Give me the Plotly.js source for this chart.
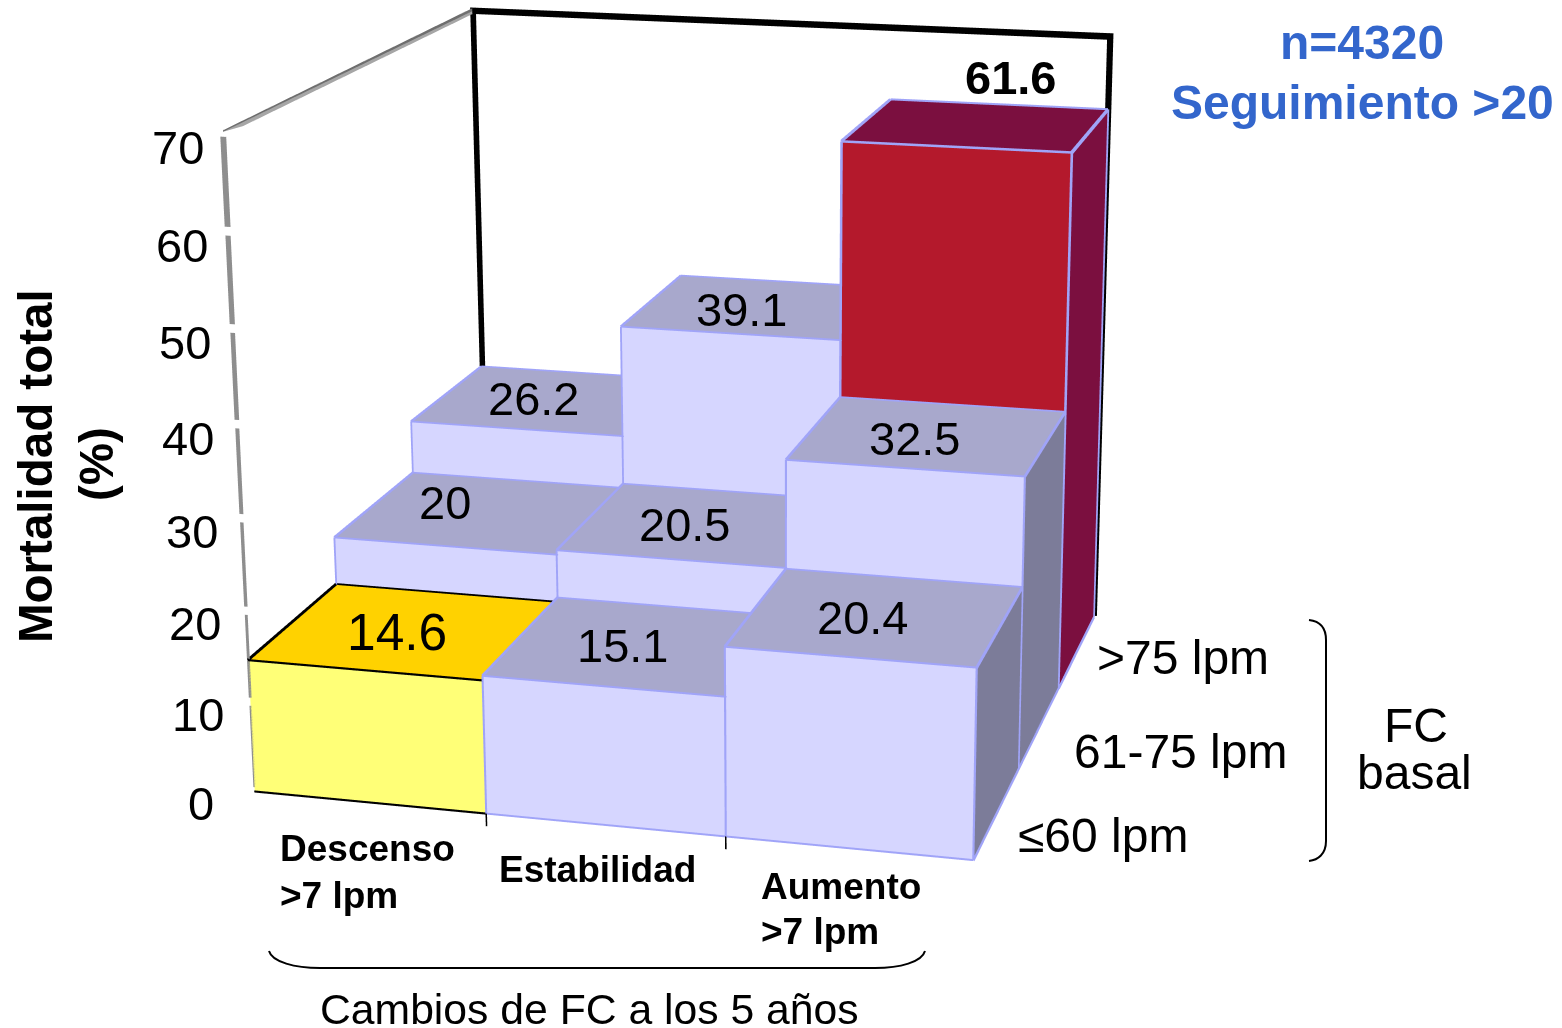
<!DOCTYPE html>
<html>
<head>
<meta charset="utf-8">
<script src="https://cdn.plot.ly/plotly-3.0.1.min.js"></script>
<style>
  html, body { margin: 0; padding: 0; background: #fff; overflow: hidden; width: 1562px; height: 1028px; }
  #frame { position: fixed; left: 0; top: 0; width: 1562px; height: 1028px; overflow: hidden; }
  #chart { position: absolute; left: 0; top: -936px; width: 1562px; height: 2900px; }
</style>
</head>
<body>
<div id="frame"><div id="chart"></div></div>
<script>
// Total mortality by baseline heart rate and its change over five years
const changeGroups = [['Descenso', '>7 lpm'], ['Estabilidad'], ['Aumento', '>7 lpm']];
const baselineGroups = ['≤60 lpm', '61-75 lpm', '>75 lpm'];
const lowHR = [14.6, 15.1, 20.4];
const midHR = [20, 20.5, 32.5];
const highHR = [26.2, 39.1, 61.6];
const zTicks = [0, 10, 20, 30, 40, 50, 60, 70];

const grid = [lowHR, midHR, highHR];
const ZMAX = 70;

// The canvas is taller than the window so that the fixed 45 degree lens reads as a long one
const W = 1562, H = 2900, TOP = -936;
const px = (x, y) => [x / W, 1 - (y - TOP) / H];

const PALETTE = {
  normal: { front: '#D6D6FF', top: '#A8A8CC', side: '#7C7C99' },
  low: { front: '#FFFF77', top: '#FFD200', side: '#7C7C99' },
  high: { front: '#B4192C', top: '#7B0F3F', side: '#7B0F3F' }
};
const EDGE = '#A0A4F8';
const DARK = '#000000';

const vx = [], vy = [], vz = [], ti = [], tj = [], tk = [], fc = [];
function quad(pts, color) {
  const n = vx.length;
  pts.forEach(p => { vx.push(p[0]); vy.push(p[1]); vz.push(p[2]); });
  ti.push(n, n); tj.push(n + 1, n + 2); tk.push(n + 2, n + 3);
  fc.push(color, color);
}

// Edges are narrow ribbons lifted slightly towards the viewer, widened across their direction
const NUDGE = [0.0027, -0.0111, 0.094];
const PX_X = 0.0043, PX_Z = 0.107;
function seg(pts, color, halfWidth) {
  for (let n = 0; n + 1 < pts.length; n++) {
    const a = pts[n], b = pts[n + 1];
    const alongX = a[0] !== b[0], alongY = a[1] !== b[1];
    const ox = (alongX ? 0 : 1) * halfWidth * PX_X;
    const oz = (alongX ? 1 : alongY ? -1 : 0) * halfWidth * PX_Z;
    const shift = (p, s) => [p[0] + NUDGE[0] + s * ox, p[1] + NUDGE[1], p[2] + NUDGE[2] + s * oz];
    quad([shift(a, -1), shift(b, -1), shift(b, 1), shift(a, 1)], color);
  }
}

const allValues = grid.flat();
const vMin = Math.min(...allValues), vMax = Math.max(...allValues);

grid.forEach((row, j) => row.forEach((v, i) => {
  const style = v === vMin ? PALETTE.low : v === vMax ? PALETTE.high : PALETTE.normal;
  const x0 = i, x1 = i + 1, y0 = j, y1 = j + 1;
  quad([[x0, y0, 0], [x1, y0, 0], [x1, y0, v], [x0, y0, v]], style.front);
  quad([[x1, y0, 0], [x1, y1, 0], [x1, y1, v], [x1, y0, v]], style.side);
  quad([[x0, y0, v], [x1, y0, v], [x1, y1, v], [x0, y1, v]], style.top);

  if (v === vMin) {
    seg([[x1, y0, 0], [x1, y0, v]], EDGE, 1);
    seg([[x0, y0, 0], [x1, y0, 0]], DARK, 1.1);
    seg([[x0, y0, v], [x1, y0, v]], DARK, 1.1);
    seg([[x0, y0, v], [x0, y1, v], [x1, y1, v]], DARK, 1.1);
  } else {
    const w = v === vMax ? 1.3 : 1;
    seg([[x0, y0, 0], [x1, y0, 0], [x1, y1, 0]], EDGE, w);
    seg([[x0, y0, 0], [x0, y0, v], [x1, y0, v], [x1, y0, 0]], EDGE, w);
    seg([[x1, y0, v], [x1, y1, v], [x1, y1, 0]], EDGE, w);
    seg([[x0, y0, v], [x0, y1, v], [x1, y1, v]], EDGE, w);
  }
}));

const nx = changeGroups.length, ny = baselineGroups.length;

// Back wall outline: flat black ribbons just behind the last row
const WALL_Y = ny + 0.012, RX = 0.014, RZ = 0.38;
quad([[-RX, WALL_Y, ZMAX - RZ], [nx + RX, WALL_Y, ZMAX - RZ], [nx + RX, WALL_Y, ZMAX + RZ], [-RX, WALL_Y, ZMAX + RZ]], DARK);
quad([[-RX, WALL_Y, 0], [RX, WALL_Y, 0], [RX, WALL_Y, ZMAX], [-RX, WALL_Y, ZMAX]], DARK);
quad([[nx - RX, WALL_Y, 0], [nx + RX, WALL_Y, 0], [nx + RX, WALL_Y, ZMAX], [nx - RX, WALL_Y, ZMAX]], DARK);

// Upper edge of the side wall, a wedge in two greys
quad([[0, 0, ZMAX + 0.2], [0, ny, ZMAX + 0.35], [0, ny, ZMAX], [0, 0, ZMAX + 0.05]], '#6E6E6E');
quad([[0, 0, ZMAX + 0.05], [0, ny, ZMAX], [0, ny, ZMAX - 0.35], [0, 0.2, ZMAX - 0.35]], '#A6A6A6');

// Vertical axis, broken at each tick and tapering towards the floor
zTicks.slice(0, -1).forEach((t, idx) => {
  const w = 0.005 + idx * 0.0012, z0 = t + 0.45, z1 = zTicks[idx + 1] - 0.45;
  quad([[-w, 0, z0], [w, 0, z0], [w, 0, z1], [-w, 0, z1]], '#8E8E8E');
});

// Small ticks between the change groups
for (let i = 1; i < nx; i++) seg([[i, 0, 0], [i, 0, -1.4]], DARK, 0.75);

const traces = [{
  type: 'mesh3d', x: vx, y: vy, z: vz, i: ti, j: tj, k: tk, facecolor: fc,
  flatshading: true, hoverinfo: 'skip',
  lighting: { ambient: 1, diffuse: 0, specular: 0, roughness: 1, fresnel: 0 }
}];

const FONT = 'Liberation Sans, Arial, sans-serif';

const sceneNotes = [];
zTicks.forEach(t => sceneNotes.push({
  x: 0, y: 0, z: t, text: String(t), showarrow: false,
  xanchor: 'center', yanchor: 'middle',
  xshift: -45 - (ZMAX - t) * 0.12, yshift: -15 + (ZMAX - t) * 0.035,
  font: { family: FONT, size: 47, color: '#000' }
}));

// Label offsets from the centre of each bar top
const labelNudge = {
  14.6: [-10, -2], 15.1: [-16, 0], 20.4: [-15, -1],
  20: [-37, 10], 20.5: [-17, 0], 32.5: [-14, -3],
  26.2: [-16, 2], 39.1: [-16, -3], 61.6: [33, 48]
};
grid.forEach((row, j) => row.forEach((v, i) => {
  const peak = v === vMax;
  const nudge = labelNudge[v];
  sceneNotes.push({
    x: i + 0.5, y: j + 0.5, z: v, text: String(v), showarrow: false,
    xanchor: 'center', yanchor: 'middle',
    xshift: nudge[0], yshift: nudge[1],
    font: { family: FONT, size: v === vMin ? 51.5 : 47, color: '#000', weight: peak ? 'bold' : 'normal' }
  });
}));

function note(text, x, y, size, opts) {
  const p = px(x, y);
  const o = opts || {};
  return Object.assign({
    xref: 'paper', yref: 'paper', x: p[0], y: p[1], text, showarrow: false,
    xanchor: 'left', yanchor: 'middle', align: 'left',
    font: { family: FONT, size, color: o.color || '#000', weight: o.weight || 'normal' }
  }, o.anchor ? { xanchor: o.anchor } : {}, o.angle ? { textangle: o.angle } : {});
}
const BLUE = '#3366CC';
const bold = { weight: 'bold' };
const annotations = [
  note('n=4320', 1362, 42, 48, { anchor: 'center', color: BLUE, weight: 'bold' }),
  note('Seguimiento >20', 1362, 102, 48, { anchor: 'center', color: BLUE, weight: 'bold' }),
  note('Mortalidad total', 35, 466, 47.5, { anchor: 'center', angle: -90, weight: 'bold' }),
  note('(%)', 96, 464, 47.5, { anchor: 'center', angle: -90, weight: 'bold' }),
  note(changeGroups[0][0], 278, 849, 37, bold),
  note(changeGroups[0][1], 278, 896, 37, bold),
  note(changeGroups[1][0], 497, 869, 37, bold),
  note(changeGroups[2][0], 759, 887, 37, bold),
  note(changeGroups[2][1], 759, 931, 37, bold),
  note('Cambios de FC a los 5 años', 318, 1009, 42.7),
  note(baselineGroups[2], 1095, 657, 48),
  note(baselineGroups[1], 1072, 751, 48),
  note(baselineGroups[0], 1016, 835, 48),
  note('FC', 1382, 726, 48),
  note('basal', 1355, 772, 48)
];

function bracePath(cmds) {
  return cmds.map(c => {
    const parts = [c[0]];
    for (let n = 1; n < c.length; n += 2) {
      const p = px(c[n], c[n + 1]);
      parts.push(p[0] + ' ' + p[1]);
    }
    return parts.join(' ');
  }).join(' ');
}
const shapes = [
  { type: 'path', xref: 'paper', yref: 'paper', line: { color: '#000', width: 2 },
    path: bracePath([['M', 1309, 620], ['C', 1318, 621, 1326, 626, 1326, 640], ['L', 1326, 841], ['C', 1326, 854, 1318, 860, 1309, 861]]) },
  { type: 'path', xref: 'paper', yref: 'paper', line: { color: '#000', width: 2 },
    path: bracePath([['M', 269, 951], ['C', 272, 962, 295, 968, 320, 968], ['L', 875, 968], ['C', 900, 968, 922, 962, 925, 951]]) }
];

const hidden = {
  showgrid: false, zeroline: false, showline: false, showticklabels: false,
  showspikes: false, showbackground: false, ticks: '', title: { text: '' }
};

const layout = {
  width: W, height: H, autosize: false,
  margin: { l: 0, r: 0, t: 0, b: 0 },
  paper_bgcolor: '#fff', showlegend: false,
  annotations, shapes,
  scene: {
    domain: { x: [0, 1], y: [0, 1] },
    bgcolor: '#fff',
    aspectmode: 'manual',
    aspectratio: { x: 1.0645, y: 1.0667, z: 1.0423 },
    camera: {
      up: { x: -0.012, y: -0.003, z: 1 },
      eye: { x: 1.265, y: -4.651, z: 1.33 },
      center: { x: 0.1233, y: -0.0206, z: -0.158 }
    },
    xaxis: Object.assign({ range: [-0.1, nx + 0.1] }, hidden),
    yaxis: Object.assign({ range: [-0.1, ny + 0.1] }, hidden),
    zaxis: Object.assign({ range: [-5, ZMAX + 5] }, hidden),
    annotations: sceneNotes
  }
};

Plotly.newPlot('chart', traces, layout, { displayModeBar: false, responsive: false });
</script>
</body>
</html>
